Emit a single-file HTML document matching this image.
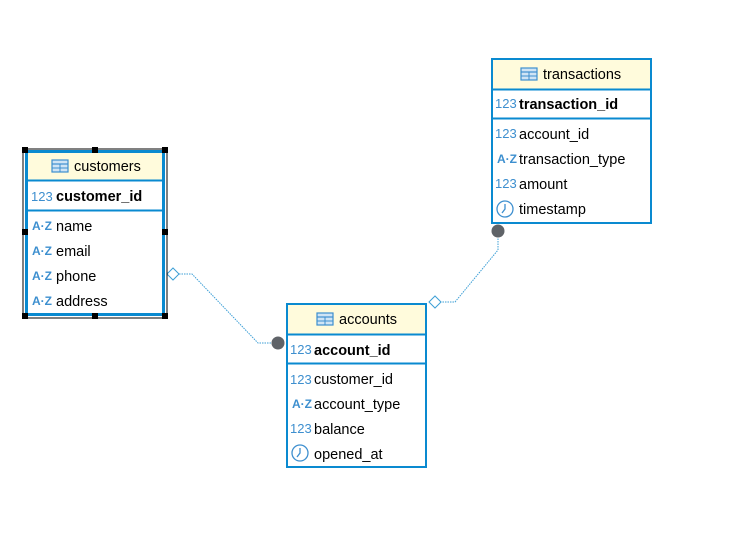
<!DOCTYPE html>
<html><head><meta charset="utf-8"><style>
body{margin:0;background:#fff;width:743px;height:538px;overflow:hidden}
svg{display:block;font-family:"Liberation Sans",sans-serif}
.t{font-size:14.5px;fill:#000}
.b{font-size:14.5px;font-weight:bold;fill:#000}
.i{font-size:13px;fill:#3d8fcf}
.az{font-size:12px;fill:#3d8fcf;font-weight:bold}
</style></head><body>
<svg width="743" height="538" viewBox="0 0 743 538">
<defs>
<g id="tbl"><rect x="0" y="0" width="16" height="12" fill="#cfe4f5" stroke="#3d8fcf" stroke-width="1.2"/><line x1="0" y1="4" x2="16" y2="4" stroke="#3d8fcf" stroke-width="1.2"/><line x1="0" y1="8" x2="16" y2="8" stroke="#3d8fcf" stroke-width="1"/><line x1="8" y1="4" x2="8" y2="12" stroke="#3d8fcf" stroke-width="1"/></g>
<g id="clk"><circle cx="8" cy="0" r="8" fill="none" stroke="#3d8fcf" stroke-width="1.3"/><polyline points="8,-5 8,0 5,4" fill="none" stroke="#3d8fcf" stroke-width="1.3"/></g>
</defs>

<polyline points="179,274 192,274 258,343 272,343" fill="none" stroke="#3d9fd6" stroke-width="1" stroke-dasharray="1.5,1"/>
<polygon points="167,274 173,268 179,274 173,280" fill="#fff" stroke="#3d9fd6" stroke-width="1"/>
<circle cx="278" cy="343" r="6.5" fill="#5f6368"/>
<polyline points="498,236 498,250 455,302 441,302" fill="none" stroke="#3d9fd6" stroke-width="1" stroke-dasharray="1.5,1"/>
<polygon points="429,302 435,296 441,302 435,308" fill="#fff" stroke="#3d9fd6" stroke-width="1"/>
<circle cx="498" cy="231" r="6.5" fill="#5f6368"/>

<rect x="23" y="149" width="144" height="169" fill="none" stroke="#000" stroke-width="1"/>
<rect x="26.5" y="151.5" width="137" height="163" fill="#fff" stroke="#0a8ad0" stroke-width="3"/>
<rect x="28" y="153" width="134" height="27" fill="#fffbdc"/>
<line x1="26" y1="180.5" x2="164" y2="180.5" stroke="#0a8ad0" stroke-width="2"/>
<line x1="26" y1="210.5" x2="164" y2="210.5" stroke="#0a8ad0" stroke-width="2"/>
<use href="#tbl" x="52" y="160"/>
<text class="t" x="74" y="171">customers</text>
<text class="i" x="31" y="201">123</text><text class="b" x="56" y="201">customer_id</text>
<text class="az" x="32" y="230">A·Z</text><text class="t" x="56" y="231">name</text>
<text class="az" x="32" y="255">A·Z</text><text class="t" x="56" y="256">email</text>
<text class="az" x="32" y="280">A·Z</text><text class="t" x="56" y="281">phone</text>
<text class="az" x="32" y="305">A·Z</text><text class="t" x="56" y="306">address</text>
<g fill="#000">
<rect x="22" y="147" width="6" height="6"/><rect x="92" y="147" width="6" height="6"/><rect x="162" y="147" width="6" height="6"/>
<rect x="22" y="229" width="6" height="6"/><rect x="162" y="229" width="6" height="6"/>
<rect x="22" y="313" width="6" height="6"/><rect x="92" y="313" width="6" height="6"/><rect x="162" y="313" width="6" height="6"/>
</g>

<rect x="287" y="304" width="139" height="163" fill="#fff" stroke="#0a8ad0" stroke-width="2"/>
<rect x="288" y="305" width="137" height="29" fill="#fffbdc"/>
<line x1="287" y1="334.5" x2="426" y2="334.5" stroke="#0a8ad0" stroke-width="2"/>
<line x1="287" y1="363.5" x2="426" y2="363.5" stroke="#0a8ad0" stroke-width="2"/>
<use href="#tbl" x="317" y="313"/>
<text class="t" x="339" y="324">accounts</text>
<text class="i" x="290" y="354">123</text><text class="b" x="314" y="355">account_id</text>
<text class="i" x="290" y="384">123</text><text class="t" x="314" y="384">customer_id</text>
<text class="az" x="292" y="408">A·Z</text><text class="t" x="314" y="409">account_type</text>
<text class="i" x="290" y="433">123</text><text class="t" x="314" y="434">balance</text>
<use href="#clk" x="292" y="453"/><text class="t" x="314" y="459">opened_at</text>

<rect x="492" y="59" width="159" height="164" fill="#fff" stroke="#0a8ad0" stroke-width="2"/>
<rect x="493" y="60" width="157" height="29" fill="#fffbdc"/>
<line x1="492" y1="89.5" x2="651" y2="89.5" stroke="#0a8ad0" stroke-width="2"/>
<line x1="492" y1="118.5" x2="651" y2="118.5" stroke="#0a8ad0" stroke-width="2"/>
<use href="#tbl" x="521" y="68"/>
<text class="t" x="543" y="79">transactions</text>
<text class="i" x="495" y="108">123</text><text class="b" x="519" y="109">transaction_id</text>
<text class="i" x="495" y="138">123</text><text class="t" x="519" y="139">account_id</text>
<text class="az" x="497" y="163">A·Z</text><text class="t" x="519" y="164">transaction_type</text>
<text class="i" x="495" y="188">123</text><text class="t" x="519" y="189">amount</text>
<use href="#clk" x="497" y="209"/><text class="t" x="519" y="214">timestamp</text>
</svg>
</body></html>
